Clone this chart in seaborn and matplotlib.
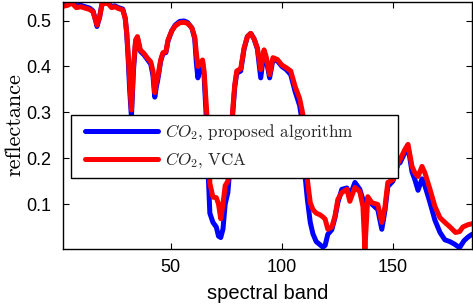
import matplotlib
matplotlib.use("Agg")
import matplotlib.pyplot as plt
import pandas as pd
import seaborn as sns
from matplotlib.font_manager import FontProperties
from matplotlib.lines import Line2D
from matplotlib.legend_handler import HandlerLine2D

# ---- data ----
band_vca = [1.5, 3.5, 5.5, 7.5, 9.5, 11.5, 13.5, 15, 16.2, 16.8, 18, 19, 20.5, 22, 23.4, 24.8,
            26.5, 28.4, 29.5, 30.2, 30.8, 31.5, 32.3, 33.2, 34.2, 35, 36.3, 38, 39.5, 41, 42,
            42.8, 43.5, 44.2, 45.5, 46.5, 47.8, 48.8, 50.5, 52, 54, 56, 57.5, 59.5, 60.8, 61.5,
            62.2, 63.2, 64.3, 65, 66.2, 67, 67.6, 69, 70.5, 71.5, 72.5, 73.5, 74.5, 75.7, 77,
            77.8, 78.8, 79.7, 81.5, 83, 84.5, 86, 87.5, 89, 90.5, 92, 93, 94.5, 96, 98, 100, 102,
            104, 106, 108, 109.5, 110.5, 111.5, 112.8, 114, 115.5, 117, 118.5, 119.5, 120.7,
            122.5, 123.9, 125.2, 127, 129.3, 130.6, 132.9, 135.1, 136.5, 137.4, 138.7, 140.5,
            143.2, 145, 146.4, 147.7, 150, 152.3, 153.2, 155.4, 156.8, 158.6, 159.9, 161.3,
            163.1, 164.4, 166.7, 168.9, 171.2, 173.4, 175.7, 178.2, 180, 181.5, 183.8, 185.6]
refl_vca = [0.531, 0.533, 0.538, 0.528, 0.530, 0.527, 0.524, 0.519, 0.500, 0.490, 0.508, 0.534,
            0.538, 0.536, 0.528, 0.530, 0.526, 0.523, 0.505, 0.473, 0.430, 0.370, 0.305, 0.400,
            0.458, 0.465, 0.436, 0.428, 0.418, 0.410, 0.390, 0.343, 0.365, 0.378, 0.415, 0.430,
            0.432, 0.458, 0.478, 0.488, 0.495, 0.496, 0.494, 0.484, 0.464, 0.430, 0.400, 0.405,
            0.414, 0.390, 0.300, 0.220, 0.145, 0.115, 0.114, 0.100, 0.068, 0.100, 0.140, 0.150,
            0.200, 0.300, 0.360, 0.390, 0.395, 0.440, 0.465, 0.472, 0.460, 0.440, 0.393, 0.436,
            0.420, 0.382, 0.419, 0.415, 0.403, 0.397, 0.390, 0.356, 0.330, 0.295, 0.200, 0.153,
            0.103, 0.088, 0.080, 0.077, 0.072, 0.067, 0.045, 0.050, 0.073, 0.110, 0.125, 0.132,
            0.106, 0.136, 0.127, 0.095, 0.002, 0.116, 0.103, 0.099, 0.060, 0.093, 0.147, 0.153,
            0.190, 0.197, 0.219, 0.230, 0.182, 0.168, 0.160, 0.182, 0.168, 0.132, 0.095, 0.070,
            0.060, 0.050, 0.038, 0.040, 0.050, 0.055, 0.057]

band_prop = [1.5, 3.5, 5.5, 7.5, 9.5, 11.5, 13.5, 15, 16.2, 16.8, 18, 19, 20.5, 22, 23.4, 24.8,
             26.5, 28.4, 29.5, 30.2, 30.8, 31.5, 32.3, 33.2, 34.2, 35, 36.3, 38, 39.5, 41, 42,
             42.8, 43.5, 44.2, 45.5, 46.5, 47.8, 48.8, 50.5, 52, 54, 56, 57.5, 59.5, 60.8, 61.5,
             62.2, 63.2, 64.3, 65, 66.2, 67, 67.6, 69, 70.5, 71.5, 72.5, 73.5, 74.5, 75.7, 77,
             77.8, 78.8, 79.7, 81.5, 83, 84.5, 86, 87.5, 89, 90.5, 92, 93, 94.5, 96, 98, 100, 102,
             104, 106, 108, 109.5, 110.5, 111.5, 112.8, 114, 115.5, 117, 118.5, 119.5, 120.7,
             122.5, 123.9, 125.2, 127, 129.3, 130.6, 132.9, 135.1, 136.5, 137.4, 138.7, 140.5,
             143.2, 145, 146.4, 147.7, 150, 152.3, 153.2, 155.4, 156.8, 158.6, 159.9, 161.3,
             163.1, 164.4, 166.7, 168.9, 171.2, 173.4, 175.7, 177.9, 180, 182, 183.8, 185.6]
refl_prop = [0.535, 0.537, 0.540, 0.532, 0.533, 0.530, 0.527, 0.521, 0.500, 0.487, 0.508, 0.536,
             0.540, 0.538, 0.530, 0.532, 0.528, 0.525, 0.505, 0.470, 0.420, 0.350, 0.290, 0.390,
             0.455, 0.463, 0.433, 0.425, 0.415, 0.405, 0.380, 0.333, 0.355, 0.372, 0.412, 0.428,
             0.430, 0.456, 0.478, 0.490, 0.498, 0.499, 0.496, 0.484, 0.460, 0.410, 0.375, 0.395,
             0.410, 0.380, 0.270, 0.150, 0.080, 0.060, 0.050, 0.030, 0.027, 0.045, 0.100, 0.125,
             0.200, 0.290, 0.355, 0.385, 0.390, 0.438, 0.465, 0.472, 0.460, 0.438, 0.375, 0.433,
             0.415, 0.375, 0.415, 0.412, 0.400, 0.393, 0.382, 0.345, 0.315, 0.270, 0.160, 0.110,
             0.060, 0.035, 0.018, 0.012, 0.006, 0.010, 0.034, 0.044, 0.070, 0.103, 0.132, 0.135,
             0.117, 0.147, 0.132, 0.110, 0.105, 0.112, 0.100, 0.088, 0.045, 0.085, 0.138, 0.150,
             0.188, 0.190, 0.212, 0.225, 0.170, 0.153, 0.130, 0.155, 0.140, 0.103, 0.065, 0.038,
             0.022, 0.018, 0.012, 0.005, 0.020, 0.028, 0.034]

series_labels = [r"$CO_2$, proposed algorithm", r"$CO_2$, VCA"]
x_ticks = [50, 100, 150]
y_ticks = [0.1, 0.2, 0.3, 0.4, 0.5]
x_label = "spectral band"
y_label = "reflectance"

# ---- styling ----
sns.set_theme(style="white")
plt.rcParams["font.family"] = ["Liberation Sans", "DejaVu Sans"]
plt.rcParams["mathtext.fontset"] = "cm"

df = pd.concat([
    pd.DataFrame({"band": band_prop, "reflectance": refl_prop, "method": series_labels[0]}),
    pd.DataFrame({"band": band_vca, "reflectance": refl_vca, "method": series_labels[1]}),
], ignore_index=True)

fig = plt.figure(figsize=(4.73, 3.07), dpi=100)
ax = fig.add_axes([63 / 473, 58 / 307, 409 / 473, 247.3 / 307])

sns.lineplot(data=df, x="band", y="reflectance", hue="method",
             hue_order=series_labels, palette=["#0000ff", "#ff0000"],
             linewidth=3.6, estimator=None, sort=False, ax=ax)

ax.set_xlim(1.5, 185.6)
ax.set_ylim(0.002, 0.541)
ax.set_xticks(x_ticks)
ax.set_yticks(y_ticks)
ax.set_xticklabels([str(t) for t in x_ticks])
ax.set_yticklabels([f"{t:.1f}" for t in y_ticks])
ax.tick_params(direction="in", length=4, width=0.8, color="black",
               top=True, right=True, bottom=True, left=True,
               labelsize=13, labelcolor="black")
ax.tick_params(axis="y", pad=8.5)
ax.tick_params(axis="x", pad=7)
for sp in ax.spines.values():
    sp.set_color("black")
    sp.set_linewidth(1.0)
    sp.set_visible(True)

ax.set_xlabel(x_label, fontsize=14.5, color="black")
ax.xaxis.set_label_coords(0.5, -0.14)
ax.set_ylabel(y_label, fontproperties=FontProperties(family="cmr10", size=16), color="black")
ax.yaxis.set_label_coords(-0.095, 0.503)

leg_font = FontProperties(family="cmr10", size=12.3)
leg = ax.legend(loc="upper left", bbox_to_anchor=(0.0196, 0.287, 0.80, 0.255),
                mode="expand", prop=leg_font, frameon=True, fancybox=False,
                edgecolor="black", framealpha=1, handlelength=4.67, handletextpad=0.41,
                labelspacing=0.5, borderpad=0.42, borderaxespad=0,
                handler_map={Line2D: HandlerLine2D(xpad=0.4)})
leg.get_frame().set_linewidth(1.0)
for line in leg.get_lines():
    line.set_linewidth(3.6)

fig.savefig("out.png", dpi=100)
